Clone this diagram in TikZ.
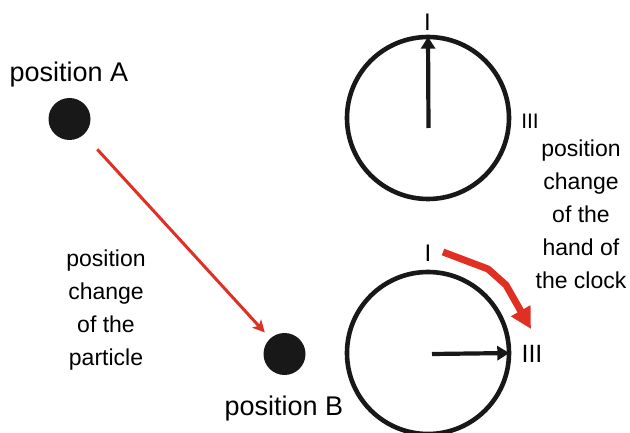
\documentclass[tikz,border=0pt]{standalone}
\usepackage{fontspec}
\setmainfont{Liberation Sans}
\usetikzlibrary{arrows.meta,calc}
\definecolor{arrowred}{RGB}{224,48,36}
\definecolor{ballblack}{RGB}{24,24,24}
\tikzset{
  ball/.style={circle,fill=ballblack,minimum size=42pt,inner sep=0pt},
  clockface/.style={circle,draw=ballblack,line width=4.6pt,minimum size=162pt,inner sep=0pt},
  biglabel/.style={font=\fontsize{27}{30}\selectfont,inner sep=0pt},
  smalllabel/.style={font=\fontsize{23}{33}\selectfont,align=center,inner sep=0pt},
  hand/.style={draw=ballblack,line width=4.2pt,-{Triangle[width=14pt,length=12pt]}},
  moveline/.style={draw=arrowred,line width=3pt,-{Stealth[width=12pt,length=12pt,inset=3pt]}},
  turnline/.style={draw=arrowred,line width=7pt,line join=round,-{Triangle[width=21pt,length=21pt]}},
}
\begin{document}
\begin{tikzpicture}[x=1pt,y=-1pt]
\useasboundingbox (0,0) rectangle (630,433);
% particle
\node[ball] (A) at (69.5,119) {};
\node[ball] (B) at (284.5,354) {};
\node[biglabel,anchor=base] (labA) at (69,82) {position A};
\node[biglabel,anchor=base] (labB) at (284,415) {position B};
\node[smalllabel] (txtP) at (106,310) {position\\change\\ of the\\particle};
\draw[moveline,shorten <=20pt,shorten >=8pt] (A) -- (B);
% clocks
\node[clockface] (c1) at (428,118) {};
\node[clockface] (c2) at (428,353) {};
\node[font=\fontsize{24}{24}\selectfont,inner sep=0pt] (i1) at (427.5,22) {I};
\node[font=\fontsize{21}{21}\selectfont,inner sep=0pt] (iii1) at (530,121) {III};
\node[font=\fontsize{24}{24}\selectfont,inner sep=0pt] (i2) at (428,253) {I};
\node[font=\fontsize{25}{25}\selectfont,inner sep=0pt] (iii2) at (532,354) {III};
\coordinate (h1) at (428.5,128);
\coordinate (h2) at (432,354);
\draw[hand,shorten >=2pt] (h1) -- (c1.north);
\draw[hand,shorten >=2pt] (h2) -- (c2.east);
\coordinate (r0) at (443,252);
\coordinate (r1) at (488,269);
\coordinate (r2) at (506,285);
\coordinate (r3) at (531,329);
\draw[turnline] (r0) -- (r1) -- (r2) -- (r3);
\node[smalllabel] (txtC) at (581,214) {position\\change\\ of the\\hand of\\the clock};
\end{tikzpicture}
\end{document}
